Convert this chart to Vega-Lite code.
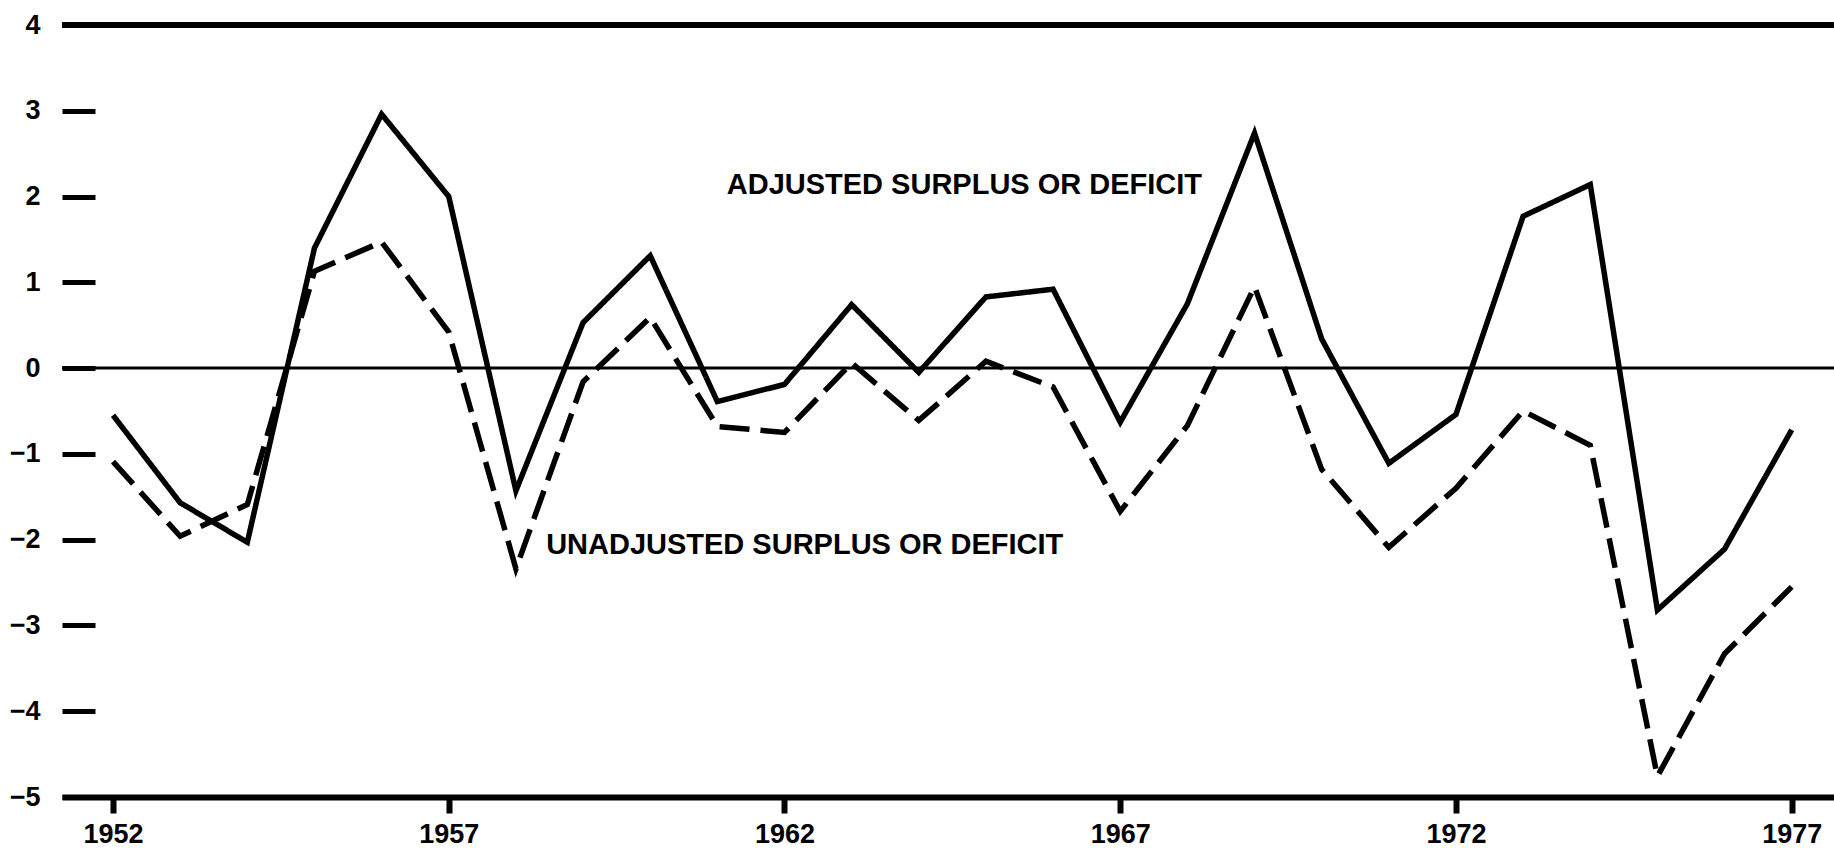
{
  "$schema": "https://vega.github.io/schema/vega-lite/v6.json",
  "width": 1772,
  "height": 772,
  "autosize": {"type": "none"},
  "padding": {"left": 62, "top": 25, "right": 0, "bottom": 55},
  "background": "white",
  "config": {
    "view": {"stroke": null},
    "font": "Liberation Sans"
  },
  "datasets": {
    "series": [
      {"year": 1952, "value": -0.55, "series": "Adjusted"},
      {"year": 1953, "value": -1.57, "series": "Adjusted"},
      {"year": 1954, "value": -2.03, "series": "Adjusted"},
      {"year": 1955, "value": 1.4, "series": "Adjusted"},
      {"year": 1956, "value": 2.96, "series": "Adjusted"},
      {"year": 1957, "value": 2.0, "series": "Adjusted"},
      {"year": 1958, "value": -1.43, "series": "Adjusted"},
      {"year": 1959, "value": 0.53, "series": "Adjusted"},
      {"year": 1960, "value": 1.31, "series": "Adjusted"},
      {"year": 1961, "value": -0.39, "series": "Adjusted"},
      {"year": 1962, "value": -0.19, "series": "Adjusted"},
      {"year": 1963, "value": 0.74, "series": "Adjusted"},
      {"year": 1964, "value": -0.05, "series": "Adjusted"},
      {"year": 1965, "value": 0.83, "series": "Adjusted"},
      {"year": 1966, "value": 0.92, "series": "Adjusted"},
      {"year": 1967, "value": -0.63, "series": "Adjusted"},
      {"year": 1968, "value": 0.75, "series": "Adjusted"},
      {"year": 1969, "value": 2.74, "series": "Adjusted"},
      {"year": 1970, "value": 0.34, "series": "Adjusted"},
      {"year": 1971, "value": -1.11, "series": "Adjusted"},
      {"year": 1972, "value": -0.54, "series": "Adjusted"},
      {"year": 1973, "value": 1.77, "series": "Adjusted"},
      {"year": 1974, "value": 2.14, "series": "Adjusted"},
      {"year": 1975, "value": -2.82, "series": "Adjusted"},
      {"year": 1976, "value": -2.11, "series": "Adjusted"},
      {"year": 1977, "value": -0.72, "series": "Adjusted"},
      {"year": 1952, "value": -1.09, "series": "Unadjusted"},
      {"year": 1953, "value": -1.96, "series": "Unadjusted"},
      {"year": 1954, "value": -1.59, "series": "Unadjusted"},
      {"year": 1955, "value": 1.13, "series": "Unadjusted"},
      {"year": 1956, "value": 1.47, "series": "Unadjusted"},
      {"year": 1957, "value": 0.42, "series": "Unadjusted"},
      {"year": 1958, "value": -2.34, "series": "Unadjusted"},
      {"year": 1959, "value": -0.16, "series": "Unadjusted"},
      {"year": 1960, "value": 0.59, "series": "Unadjusted"},
      {"year": 1961, "value": -0.68, "series": "Unadjusted"},
      {"year": 1962, "value": -0.75, "series": "Unadjusted"},
      {"year": 1963, "value": 0.06, "series": "Unadjusted"},
      {"year": 1964, "value": -0.61, "series": "Unadjusted"},
      {"year": 1965, "value": 0.08, "series": "Unadjusted"},
      {"year": 1966, "value": -0.22, "series": "Unadjusted"},
      {"year": 1967, "value": -1.67, "series": "Unadjusted"},
      {"year": 1968, "value": -0.67, "series": "Unadjusted"},
      {"year": 1969, "value": 0.95, "series": "Unadjusted"},
      {"year": 1970, "value": -1.18, "series": "Unadjusted"},
      {"year": 1971, "value": -2.09, "series": "Unadjusted"},
      {"year": 1972, "value": -1.4, "series": "Unadjusted"},
      {"year": 1973, "value": -0.5, "series": "Unadjusted"},
      {"year": 1974, "value": -0.9, "series": "Unadjusted"},
      {"year": 1975, "value": -4.76, "series": "Unadjusted"},
      {"year": 1976, "value": -3.33, "series": "Unadjusted"},
      {"year": 1977, "value": -2.55, "series": "Unadjusted"}
    ],
    "labels": [
      {"year": 1961.14, "value": 2.13, "label": "ADJUSTED SURPLUS OR DEFICIT"},
      {"year": 1958.45, "value": -2.06, "label": "UNADJUSTED SURPLUS OR DEFICIT"}
    ],
    "refs": [
      {"level": 4, "kind": "top"},
      {"level": 0, "kind": "zero"}
    ]
  },
  "layer": [
    {
      "data": {"name": "refs"},
      "mark": {"type": "rule", "color": "black"},
      "encoding": {
        "y": {"field": "level", "type": "quantitative"},
        "strokeWidth": {
          "field": "kind",
          "type": "nominal",
          "scale": {"domain": ["top", "zero"], "range": [6, 3]},
          "legend": null
        }
      }
    },
    {
      "data": {"name": "series"},
      "mark": {"type": "line", "strokeWidth": 5.5, "color": "black", "strokeJoin": "miter", "strokeCap": "butt"},
      "encoding": {
        "x": {
          "field": "year",
          "type": "quantitative",
          "scale": {"domain": [1951.24, 1977.63], "nice": false, "zero": false},
          "axis": {
            "values": [1952, 1957, 1962, 1967, 1972, 1977],
            "format": "d",
            "title": null,
            "grid": false,
            "domainWidth": 6,
            "domainColor": "black",
            "tickSize": 16,
            "tickWidth": 6,
            "tickColor": "black",
            "labelPadding": 8,
            "labelFont": "Liberation Sans",
            "labelFontSize": 27,
            "labelFontWeight": "bold",
            "labelColor": "black",
            "labelFlush": false,
            "labelOverlap": false
          }
        },
        "y": {
          "field": "value",
          "type": "quantitative",
          "scale": {"domain": [-5, 4], "nice": false, "zero": false},
          "axis": {
            "values": [-5, -4, -3, -2, -1, 0, 1, 2, 3, 4],
            "format": "d",
            "title": null,
            "grid": false,
            "domain": false,
            "tickSize": -33,
            "tickWidth": 5,
            "tickColor": "black",
            "labelPadding": 55,
            "labelFont": "Liberation Sans",
            "labelFontSize": 27,
            "labelFontWeight": "bold",
            "labelColor": "black",
            "labelFlush": false,
            "labelOverlap": false
          }
        },
        "detail": {"field": "series", "type": "nominal"},
        "strokeDash": {
          "field": "series",
          "type": "nominal",
          "scale": {"domain": ["Adjusted", "Unadjusted"], "range": [[1, 0], [30, 11]]},
          "legend": null
        }
      }
    },
    {
      "data": {"name": "labels"},
      "mark": {"type": "text", "align": "left", "baseline": "middle", "font": "Liberation Sans", "fontSize": 29, "fontWeight": "bold", "color": "black"},
      "encoding": {
        "x": {"field": "year", "type": "quantitative"},
        "y": {"field": "value", "type": "quantitative"},
        "text": {"field": "label", "type": "nominal"}
      }
    }
  ]
}
